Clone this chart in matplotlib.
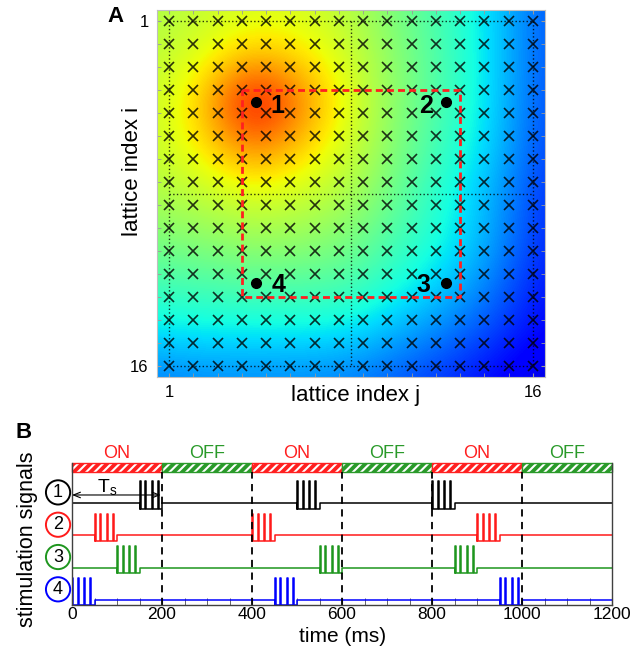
import matplotlib
matplotlib.use('Agg')
import matplotlib.pyplot as plt
import numpy as np
from matplotlib.patches import Rectangle

plt.rcParams['font.family'] = ['Liberation Sans', 'DejaVu Sans']
plt.rcParams['mathtext.fontset'] = 'custom'
plt.rcParams['mathtext.rm'] = 'Liberation Sans'
plt.rcParams['mathtext.default'] = 'rm'
plt.rcParams['hatch.linewidth'] = 1.5

# ---- panel A data ----
# field sampled every 2 lattice steps, rows i / cols j = 0.5, 2.5, ..., 16.5
grid_pos = [0.5, 2.5, 4.5, 6.5, 8.5, 10.5, 12.5, 14.5, 16.5]
field = [
    [0.56, 0.59, 0.61, 0.61, 0.57, 0.49, 0.42, 0.33, 0.21],
    [0.58, 0.63, 0.71, 0.67, 0.60, 0.51, 0.43, 0.33, 0.21],
    [0.59, 0.71, 0.95, 0.77, 0.62, 0.51, 0.43, 0.33, 0.20],
    [0.59, 0.67, 0.78, 0.69, 0.60, 0.50, 0.41, 0.32, 0.19],
    [0.56, 0.59, 0.62, 0.60, 0.56, 0.47, 0.38, 0.29, 0.17],
    [0.50, 0.52, 0.54, 0.53, 0.50, 0.43, 0.37, 0.28, 0.16],
    [0.43, 0.44, 0.45, 0.45, 0.44, 0.38, 0.32, 0.24, 0.14],
    [0.35, 0.36, 0.36, 0.36, 0.35, 0.30, 0.25, 0.19, 0.12],
    [0.25, 0.26, 0.26, 0.26, 0.25, 0.21, 0.17, 0.12, 0.08],
]
lattice = np.arange(1, 17)
block_lines = [1, 8.5, 16]
region_j = [4, 13, 13, 4, 4]
region_i = [4, 4, 13, 13, 4]
site_j = [4.6, 12.4, 12.4, 4.6]
site_i = [4.5, 4.5, 12.4, 12.4]
site_names = ['1', '2', '3', '4']
label_j = [5.45, 11.6, 11.5, 5.5]
label_i = [4.7, 4.7, 12.5, 12.5]

# ---- panel B data ----
channel_names = ['1', '2', '3', '4']
channel_colors = ['black', '#ff1a1a', '#1e961e', '#0000ff']
channel_base = [3.0, 2.0, 1.0, 0.0]
burst_starts = [[150, 500, 800], [50, 400, 900], [100, 550, 850], [0, 450, 950]]
spike_offsets = [0, 13, 27, 40]
burst_len = 50
window_edges = [0, 200, 400, 600, 800, 1000, 1200]
window_labels = ['ON', 'OFF', 'ON', 'OFF', 'ON', 'OFF']
window_colors = {'ON': '#ff2020', 'OFF': '#2a9a2a'}

fig = plt.figure(figsize=(6.33, 6.47), dpi=100)

# ================= A =================
ax = fig.add_axes([157 / 633, 1 - 377 / 647, 388 / 633, 367 / 647])
ax.imshow(np.array(field), cmap='jet', vmin=0, vmax=1, interpolation='bicubic',
          extent=(grid_pos[0] - 1, grid_pos[-1] + 1, grid_pos[-1] + 1, grid_pos[0] - 1),
          aspect='auto')
ax.set_xlim(0.5, 16.5)
ax.set_ylim(16.5, 0.5)

for v in block_lines:
    ax.plot([1, 16], [v, v], ':', color='k', lw=1, alpha=0.8)
    ax.plot([v, v], [1, 16], ':', color='k', lw=1, alpha=0.8)

jj, ii = np.meshgrid(lattice, lattice)
ax.plot(jj.ravel(), ii.ravel(), 'x', color='k', ms=7, mew=1.2, alpha=0.8)
ax.plot(region_j, region_i, '--', color='#ff2020', lw=2, dashes=(2.5, 1.5))
ax.plot(site_j, site_i, 'o', color='k', ms=7)
for name, x, y in zip(site_names, label_j, label_i):
    ax.text(x, y, name, fontsize=18, fontweight='bold', ha='center', va='center')

ax.set_xticks([1, 16])
ax.set_yticks([1, 16])
ax.set_xticks(lattice, minor=True)
ax.set_yticks(lattice, minor=True)
ax.tick_params(which='both', direction='in', top=True, right=True, length=3,
               color='0.6', labelsize=12, pad=6)
for sp in ax.spines.values():
    sp.set_color('0.75')
    sp.set_linewidth(0.8)

fig.text(133 / 633, 1 - 171 / 647, 'lattice index i', rotation=90,
         ha='center', va='center', fontsize=16)
fig.text(356 / 633, 1 - 396 / 647, 'lattice index j', ha='center', va='center',
         fontsize=16)
fig.text(116 / 633, 1 - 17 / 647, 'A', fontsize=16, fontweight='bold',
         ha='center', va='center')

# ================= B =================
bx = fig.add_axes([72 / 633, 1 - 605 / 647, 540 / 633, 142 / 647])
bar_lo, bar_hi = 3.95, 4.24
bx.set_xlim(0, 1200)
bx.set_ylim(-0.155, bar_hi)

dip, top, width = 0.17, 0.67, 2.5


def burst_trace(starts, base):
    t, y = [0], [base]
    for s in starts:
        t += [s, s]
        y += [base, base - dip]
        for o in spike_offsets:
            t += [s + o, s + o, s + o + width, s + o + width]
            y += [base - dip, base + top, base + top, base - dip]
        t += [s + burst_len, s + burst_len]
        y += [base - dip, base]
    t.append(1200)
    y.append(base)
    return t, y


for name, col, base, starts in zip(channel_names, channel_colors, channel_base, burst_starts):
    t, y = burst_trace(starts, base)
    bx.plot(t, y, color=col, lw=1.1)
    bx.text(-31, base + 0.33, name, color='k', fontsize=13, ha='center', va='center',
            bbox=dict(boxstyle='circle,pad=0.2', fc='white', ec=col, lw=1.4),
            clip_on=False)

for x in window_edges[1:-1]:
    bx.plot([x, x], [-0.155, bar_lo], '--', color='k', lw=1.3, dashes=(4, 3))

for a, b, lab in zip(window_edges[:-1], window_edges[1:], window_labels):
    c = window_colors[lab]
    bx.add_patch(Rectangle((a, bar_lo), b - a, bar_hi - bar_lo, facecolor=c,
                           edgecolor='white', hatch='////', lw=0, clip_on=False))
    bx.add_patch(Rectangle((a, bar_lo), b - a, bar_hi - bar_lo, fill=False,
                           edgecolor=c, lw=1, clip_on=False))
    bx.text((a + b) / 2, 4.52, lab, color=c, fontsize=13, ha='center', va='center')

bx.annotate('', xy=(0, 3.25), xytext=(197, 3.25),
            arrowprops=dict(arrowstyle='<->,head_length=0.5,head_width=0.2',
                            color='k', lw=0.8, shrinkA=0, shrinkB=0))
bx.text(78, 3.5, r'T$_{s}$', fontsize=14, ha='center', va='center')

bx.spines['top'].set_visible(False)
for s in ['left', 'right', 'bottom']:
    bx.spines[s].set_color('0.25')
    bx.spines[s].set_linewidth(1)
bx.set_xticks(window_edges)
bx.set_xticks(np.arange(0, 1201, 50), minor=True)
bx.set_yticks([])
bx.tick_params(axis='x', which='both', direction='in', length=5, color='0.3',
               labelsize=12.5, pad=1.5)
fig.text(343 / 633, 1 - 636 / 647, 'time (ms)', ha='center', va='center',
         fontsize=15)
fig.text(27 / 633, 1 - 539 / 647, 'stimulation signals', rotation=90,
         ha='center', va='center', fontsize=15.5)
fig.text(24 / 633, 1 - 432 / 647, 'B', fontsize=16, fontweight='bold',
         ha='center', va='center')

fig.savefig('out.png', dpi=100)
